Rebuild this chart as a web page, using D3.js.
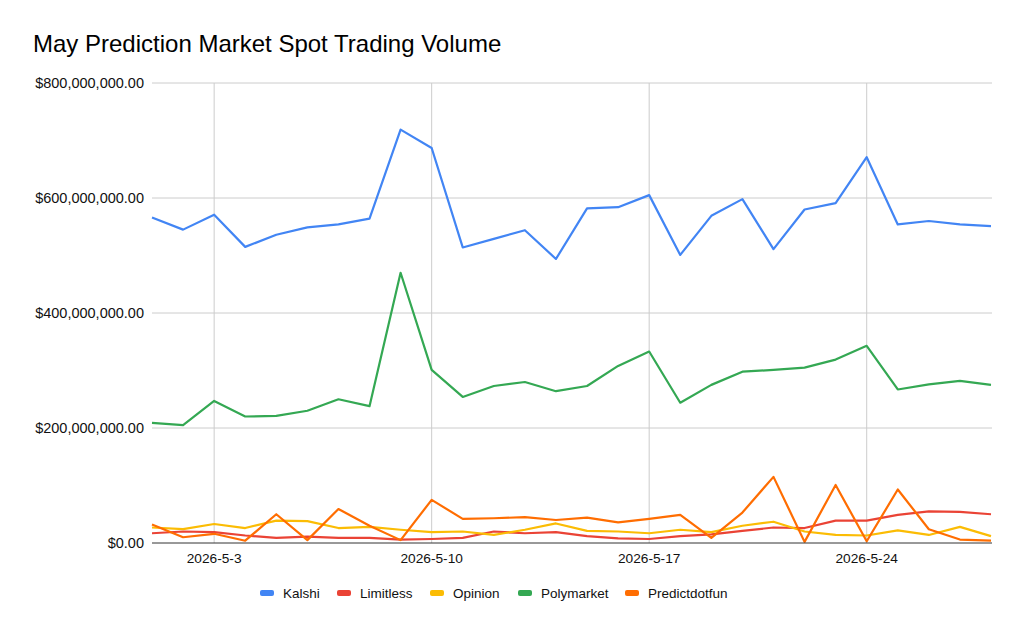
<!DOCTYPE html>
<html>
<head>
<meta charset="utf-8">
<script src="https://cdn.jsdelivr.net/npm/d3@7"></script>
<style>
  body { margin: 0; background: #fff; }
  text { font-family: "Liberation Sans", Arial, sans-serif; }
</style>
</head>
<body>
<script>
// days of May 2026
var days = d3.range(1, 29);

// daily volume in millions of USD
var kalshi = [566, 545, 571, 515, 536, 549, 554, 564, 719, 687, 514, 529, 544, 494,
              582, 584, 605, 501, 569, 598, 511, 580, 591, 671, 554, 560, 554, 551];
var limitless = [17, 20, 19, 13, 9, 11, 9, 9, 6, 7, 9, 20, 17, 19,
                 12, 8, 7, 12, 15, 21, 27, 26, 39, 39, 49, 55, 54, 50];
var opinion = [27, 24, 33, 26, 39, 38, 26, 28, 23, 19, 20, 14, 23, 34,
               21, 20, 17, 23, 19, 30, 37, 20, 14, 13, 22, 14, 28, 12];
var polymarket = [209, 205, 247, 220, 221, 230, 250, 238, 470, 301, 254, 273, 280, 264,
                  273, 308, 333, 244, 275, 298, 301, 305, 319, 343, 267, 276, 282, 275];
var predictdotfun = [32, 10, 16, 4, 50, 5, 59, 30, 5, 75, 42, 43, 45, 40,
                     44, 36, 42, 49, 9, 53, 115, 2, 101, 3, 93, 24, 6, 4];

var seriesNames = ["Kalshi", "Limitless", "Opinion", "Polymarket", "Predictdotfun"];
var seriesColors = ["#4285f4", "#ea4335", "#fbbc04", "#34a853", "#ff6d01"];
var seriesValues = [kalshi, limitless, opinion, polymarket, predictdotfun];

var xTickDays = [3, 10, 17, 24];
var yTicks = [0, 200, 400, 600, 800];

var width = 1024, height = 633;
var margin = { top: 83, right: 32, bottom: 90, left: 152 };

var svg = d3.select("body").append("svg")
  .attr("width", width)
  .attr("height", height);

var day = d => new Date(Date.UTC(2026, 4, d));

var x = d3.scaleUtc()
  .domain([day(1), day(28)])
  .range([margin.left, width - margin.right - 1]);

var y = d3.scaleLinear()
  .domain([0, 800])
  .range([height - margin.bottom, margin.top]);

var fmt = d3.format("$,.2f");

svg.append("text")
  .attr("x", 33)
  .attr("y", 52)
  .attr("font-size", 24)
  .attr("fill", "#000")
  .text("May Prediction Market Spot Trading Volume");

// horizontal grid
svg.append("g")
  .selectAll("line")
  .data(yTicks.filter(d => d > 0))
  .join("line")
    .attr("x1", margin.left)
    .attr("x2", width - margin.right)
    .attr("y1", d => y(d))
    .attr("y2", d => y(d))
    .attr("stroke", "#cccccc")
    .attr("stroke-width", 1);

// vertical grid at tick days
svg.append("g")
  .selectAll("line")
  .data(xTickDays)
  .join("line")
    .attr("x1", d => x(day(d)))
    .attr("x2", d => x(day(d)))
    .attr("y1", margin.top)
    .attr("y2", y(0))
    .attr("stroke", "#cccccc")
    .attr("stroke-width", 1);

// y labels
svg.append("g")
  .selectAll("text")
  .data(yTicks)
  .join("text")
    .attr("x", margin.left - 8)
    .attr("y", d => y(d))
    .attr("dy", "0.35em")
    .attr("text-anchor", "end")
    .attr("font-size", 14.5)
    .attr("fill", "#111")
    .text(d => fmt(d * 1e6));

// x labels
svg.append("g")
  .selectAll("text")
  .data(xTickDays)
  .join("text")
    .attr("x", d => x(day(d)))
    .attr("y", y(0) + 20)
    .attr("text-anchor", "middle")
    .attr("font-size", 13.7)
    .attr("fill", "#111")
    .text(d => "2026-5-" + d);

var line = d3.line()
  .x((d, i) => x(day(days[i])))
  .y(d => y(d));

svg.append("g")
  .selectAll("path")
  .data(seriesValues)
  .join("path")
    .attr("d", line)
    .attr("fill", "none")
    .attr("stroke", (d, i) => seriesColors[i])
    .attr("stroke-width", 2.2)
    .attr("stroke-linejoin", "round");

// baseline
svg.append("line")
  .attr("x1", margin.left)
  .attr("x2", width - margin.right)
  .attr("y1", y(0))
  .attr("y2", y(0))
  .attr("stroke", "#333")
  .attr("stroke-width", 1);

// legend
var legendX = [260, 337, 430, 518, 625];
var legend = svg.append("g")
  .selectAll("g")
  .data(seriesNames)
  .join("g")
    .attr("transform", (d, i) => `translate(${legendX[i]}, 593)`);

legend.append("rect")
  .attr("x", 0)
  .attr("y", -3)
  .attr("width", 14)
  .attr("height", 6)
  .attr("rx", 2)
  .attr("fill", (d, i) => seriesColors[i]);

legend.append("text")
  .attr("x", 23)
  .attr("dy", "0.35em")
  .attr("font-size", 13.5)
  .attr("fill", "#111")
  .text(d => d);
</script>
</body>
</html>
